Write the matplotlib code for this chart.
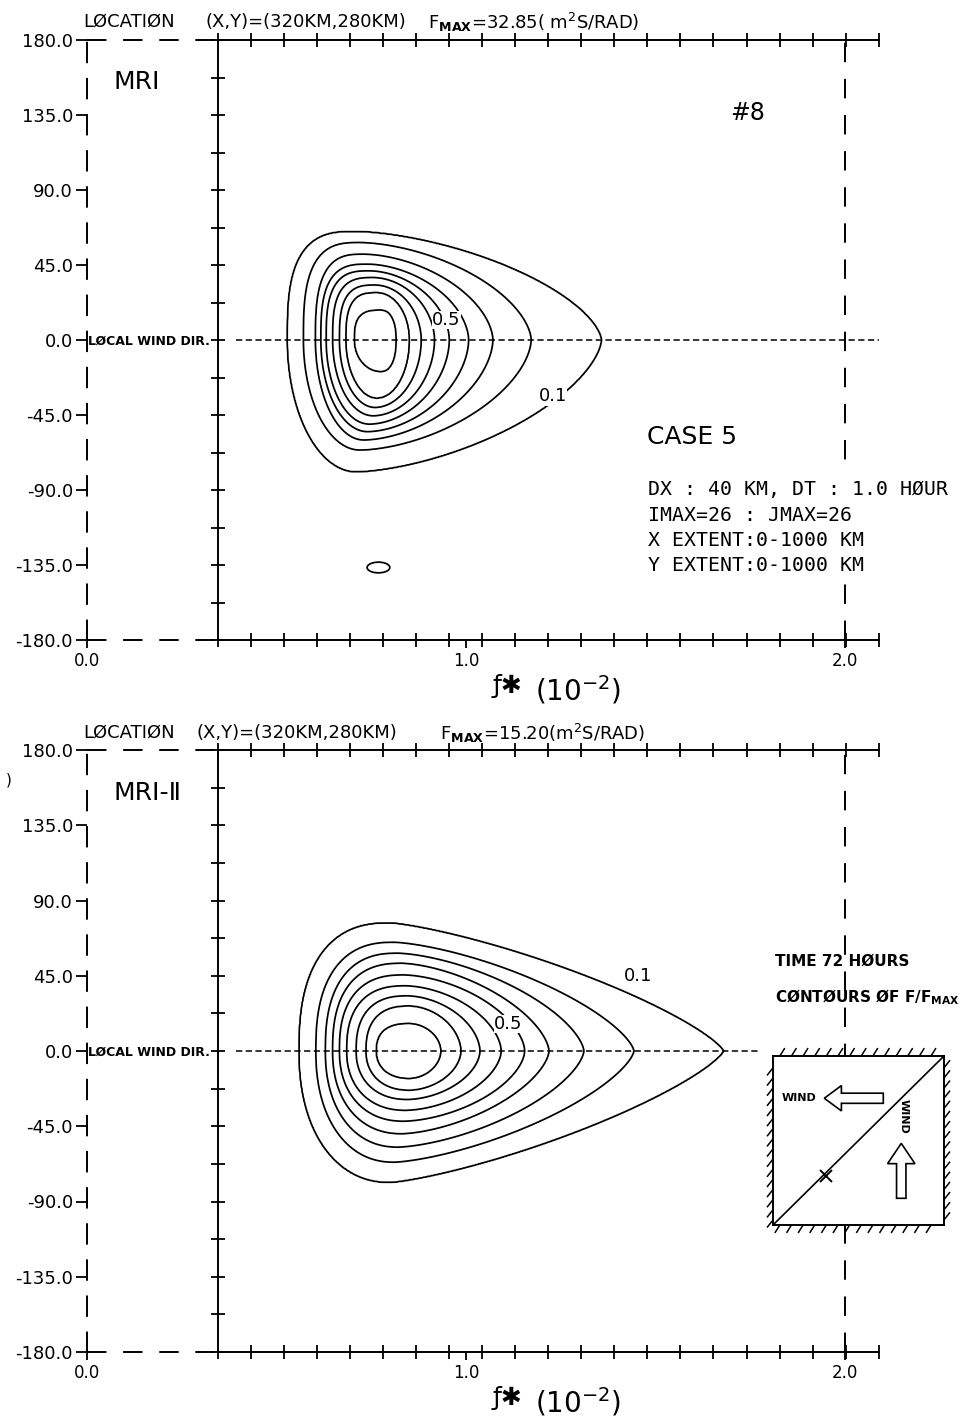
import numpy as np
import matplotlib
matplotlib.use("Agg")
import matplotlib.pyplot as plt
from matplotlib.collections import LineCollection
from matplotlib.patches import FancyArrow

plt.rcParams['font.family'] = ['DejaVu Sans']
plt.rcParams['lines.scale_dashes'] = False
plt.rcParams['mathtext.default'] = 'regular'

# contour levels of F/Fmax
levels = [0.1, 0.2, 0.3, 0.4, 0.5, 0.6, 0.7, 0.8, 0.9]

# MRI (top panel): extent of every contour
# (x in f* 1e-2 units, direction in degrees)
mri_left = [0.529, 0.571, 0.603, 0.617, 0.631, 0.648, 0.666, 0.683, 0.705]
mri_right = [1.357, 1.172, 1.071, 1.007, 0.956, 0.917, 0.882, 0.851, 0.816]
mri_ctr = [0.71, 0.72, 0.73, 0.74, 0.745, 0.755, 0.76, 0.765, 0.775]
mri_top = [65.0, 58.5, 51.5, 45.5, 41.5, 37.5, 33.0, 28.5, 18.0]
mri_bot = [-79.0, -66.0, -60.0, -55.0, -50.5, -45.5, -40.5, -35.0, -19.0]
# roundness of each contour: upper-left, lower-left, right side
mri_p_lt, mri_p_lb = 3.0, 2.0
mri_p_r = [1.6, 1.7, 1.75, 1.8, 1.85, 1.9, 1.95, 2.0, 2.3]
# small 0.1 island near -135 deg
mri_island = (0.769, -136.5, 0.03, 3.2)

# MRI-II (bottom panel)
mri2_left = [0.560, 0.604, 0.629, 0.648, 0.666, 0.685, 0.710, 0.736, 0.763]
mri2_right = [1.679, 1.443, 1.311, 1.219, 1.155, 1.093, 1.037, 0.987, 0.934]
mri2_ctr = [0.80, 0.81, 0.82, 0.83, 0.835, 0.84, 0.845, 0.85, 0.85]
mri2_top = [76.5, 65.0, 58.5, 52.5, 45.5, 39.0, 33.0, 27.0, 16.5]
mri2_bot = [-78.5, -66.5, -57.5, -49.5, -42.0, -35.5, -29.0, -23.5, -16.5]
mri2_p_lt, mri2_p_lb = 2.5, 2.2
mri2_p_r = [1.3, 1.45, 1.55, 1.6, 1.7, 1.75, 1.8, 1.85, 1.9]

# contour label positions (x, deg)
mri_labels = [("0.5", 0.948, 12.0), ("0.1", 1.229, -33.7)]
mri2_labels = [("0.5", 1.112, 16.2), ("0.1", 1.453, 44.7)]

# axes
f_lo, f_hi = 0.345, 2.089
f_bins = np.linspace(f_lo, f_hi, 21)
dir_ticks = np.arange(-180, 180.1, 22.5)
y_ticks = [180, 135, 90, 45, 0, -45, -90, -135, -180]
y_ticklabels = ["%.1f" % v for v in y_ticks]
x_ticks = [0.0, 1.0, 2.0]
x_ticklabels = ["0.0", "1.0", "2.0"]

W, H = 971, 1417
DASH = (0, (14, 12))


def fx(p):
    return p / W


def fy(p):
    return 1 - p / H


def field(ctr, left, right, top, bot, p_lt, p_lb, p_r, X, Y):
    S = []
    for c, l, r, t, b, pr in zip(ctr, left, right, top, bot, p_r):
        dx = X - c
        a = np.where(dx < 0, c - l, r - c)
        bb = np.where(Y >= 0, t, -b)
        p = np.where(dx < 0, np.where(Y >= 0, p_lt, p_lb), pr)
        S.append((np.abs(dx / a) ** p + np.abs(Y / bb) ** p) ** (1 / p))
    S = np.array(S)
    lev = np.array(levels)
    k = (S <= 1).sum(axis=0)
    idx = np.clip(k - 1, 0, len(levels) - 2)
    s_lo = np.take_along_axis(S, idx[None], 0)[0]
    s_hi = np.take_along_axis(S, idx[None] + 1, 0)[0]
    with np.errstate(divide='ignore', invalid='ignore'):
        frac = np.clip((1 - s_lo) / (s_hi - s_lo + 1e-9), 0, 1)
    F = lev[idx] + 0.1 * frac
    F = np.where(k == 0, 0.1 / S[0], F)
    F = np.where(k == len(levels), 0.9 + 0.1 * np.clip(1 - S[-1], 0, 1), F)
    return F


def draw_frame(ax, zero_end):
    ax.set_xlim(0, f_hi)
    ax.set_ylim(-180, 180)
    ax.patch.set_visible(False)
    for s in ['top', 'right', 'bottom']:
        ax.spines[s].set_visible(False)
    ax.spines['left'].set_linestyle(DASH)
    ax.spines['left'].set_linewidth(1.4)
    ax.set_yticks(y_ticks)
    ax.set_yticklabels(y_ticklabels)
    ax.set_xticks(x_ticks)
    ax.set_xticklabels(x_ticklabels)
    ax.tick_params(axis='y', direction='out', length=8, width=1.3, pad=2, labelsize=13)
    ax.tick_params(axis='x', direction='out', length=6, width=1.3, pad=3, labelsize=12)

    kw = dict(color='k', lw=1.4, clip_on=False)
    ax.plot([0, f_lo], [180, 180], ls=DASH, **kw)
    ax.plot([0, f_lo], [-180, -180], ls=DASH, **kw)
    ax.plot(f_bins, np.full(len(f_bins), 180), '-', marker='|', ms=10, mew=1.3, **kw)
    ax.plot(f_bins, np.full(len(f_bins), -180), '-', marker='|', ms=10, mew=1.3, **kw)
    ax.plot(np.full(len(dir_ticks), f_lo), dir_ticks, '-', marker='_', ms=10, mew=1.3, **kw)
    ax.plot([2.0, 2.0], [-180, 180], ls=DASH, **kw)
    ax.plot([0.394, zero_end], [0, 0], ls=(0, (4.5, 2.5)), color='k', lw=1.1)
    ax.text(0.003, -1, "LØCAL WIND DIR.", fontsize=9, fontweight='bold',
            ha='left', va='center')


def draw_contours(ax, F, X, Y, labels):
    ax.contour(X, Y, F, levels=levels, colors='k', linewidths=1.25)
    for txt, x, y in labels:
        ax.text(x, y, txt, fontsize=13, ha='center', va='center', zorder=5,
                bbox=dict(fc='white', ec='none', pad=0.3))


fig = plt.figure(figsize=(W / 100, H / 100), dpi=100)

xg = np.linspace(f_lo, f_hi, 700)
yg = np.linspace(-180, 180, 721)
X, Y = np.meshgrid(xg, yg)

# ---------- top panel: MRI ----------
ax1 = fig.add_axes([fx(87), fy(640), f_hi * 379 / W, 600 / H])
draw_frame(ax1, f_hi)
F1 = field(mri_ctr, mri_left, mri_right, mri_top, mri_bot,
           mri_p_lt, mri_p_lb, mri_p_r, X, Y)
ix, iy, iw, ih = mri_island
F1 = np.maximum(F1, 0.1 * (2 - np.hypot((X - ix) / iw, (Y - iy) / ih)))
draw_contours(ax1, F1, X, Y, mri_labels)

fig.text(fx(83), fy(22), "LØCATIØN", fontsize=13, va='center')
fig.text(fx(205), fy(22), "(X,Y)=(320KM,280KM)", fontsize=13, va='center')
fig.text(fx(428), fy(22), r"F$_{\mathbf{MAX}}$=32.85( m$^2$S/RAD)", fontsize=13, va='center')
fig.text(fx(113), fy(82), "MRI", fontsize=18, va='center')
fig.text(fx(730), fy(113), "#8", fontsize=17, va='center')
fig.text(fx(647), fy(437), "CASE 5", fontsize=18, va='center')
info = ["DX : 40 KM, DT : 1.0 HØUR", "IMAX=26 : JMAX=26",
        "X EXTENT:0-1000 KM", "Y EXTENT:0-1000 KM"]
for i, line in enumerate(info):
    fig.text(fx(648), fy(490 + 25.3 * i), line, fontsize=14.3,
             family='DejaVu Sans Mono', va='center', zorder=5,
             bbox=dict(fc='white', ec='none', pad=4))
fig.text(fx(492), fy(686), "ƒ✱", fontsize=18, va='center')
fig.text(fx(535), fy(690), r"(10$^{-2}$)", fontsize=20, va='center')

# ---------- bottom panel: MRI-II ----------
ax2 = fig.add_axes([fx(87), fy(1352), f_hi * 379 / W, 602 / H])
draw_frame(ax2, 1.77)
F2 = field(mri2_ctr, mri2_left, mri2_right, mri2_top, mri2_bot,
           mri2_p_lt, mri2_p_lb, mri2_p_r, X, Y)
draw_contours(ax2, F2, X, Y, mri2_labels)

fig.text(fx(83), fy(733), "LØCATIØN", fontsize=13, va='center')
fig.text(fx(196), fy(733), "(X,Y)=(320KM,280KM)", fontsize=13, va='center')
fig.text(fx(440), fy(733), r"F$_{\mathbf{MAX}}$=15.20(m$^2$S/RAD)", fontsize=13, va='center')
fig.text(fx(113), fy(793), "MRI-Ⅱ", fontsize=18, va='center')
fig.text(fx(6), fy(780), ")", fontsize=11, va='center')
fig.text(fx(775), fy(961), "TIME 72 HØURS", fontsize=11, fontweight='bold', va='center')
fig.text(fx(775), fy(997), r"CØNTØURS ØF F/F$_{\mathbf{MAX}}$", fontsize=11,
         fontweight='bold', va='center')
fig.text(fx(492), fy(1398), "ƒ✱", fontsize=18, va='center')
fig.text(fx(535), fy(1402), r"(10$^{-2}$)", fontsize=20, va='center')

# ---------- inset: wind sketch ----------
ins = fig.add_axes([fx(773), fy(1225), (944 - 773) / W, (1225 - 1056) / H])
ins.set_xlim(0, 1)
ins.set_ylim(0, 1)
ins.set_xticks([])
ins.set_yticks([])
for s in ins.spines.values():
    s.set_linewidth(1.4)
ins.plot([0, 1], [0, 1], color='k', lw=1.2)
ins.plot(0.31, 0.29, marker='x', ms=9, mew=1.4, color='k')
ins.add_patch(FancyArrow(0.645, 0.75, -0.345, 0, width=0.06, head_width=0.15,
                         head_length=0.1, length_includes_head=True,
                         fc='white', ec='k', lw=1.2))
ins.add_patch(FancyArrow(0.75, 0.158, 0, 0.325, width=0.055, head_width=0.16,
                         head_length=0.12, length_includes_head=True,
                         fc='white', ec='k', lw=1.2))
ins.text(0.05, 0.75, "WIND", fontsize=8, fontweight='bold', va='center')
ins.text(0.765, 0.64, "WIND", fontsize=8, fontweight='bold', va='center',
         ha='center', rotation=-90)

hx = np.arange(0.04, 0.99, 0.068)
hy = np.arange(0.03, 0.99, 0.06)
segs = [[(x, 1), (x + 0.029, 1.047)] for x in hx]
segs += [[(x - 0.029, -0.047), (x, 0)] for x in hx]
segs += [[(-0.035, y - 0.045), (0, y)] for y in hy]
segs += [[(1, y), (1.035, y + 0.045)] for y in hy]
ins.add_collection(LineCollection(segs, colors='k', linewidths=1.1,
                                  transform=ins.transAxes, clip_on=False))

fig.savefig("out.png", dpi=100, facecolor='white')
